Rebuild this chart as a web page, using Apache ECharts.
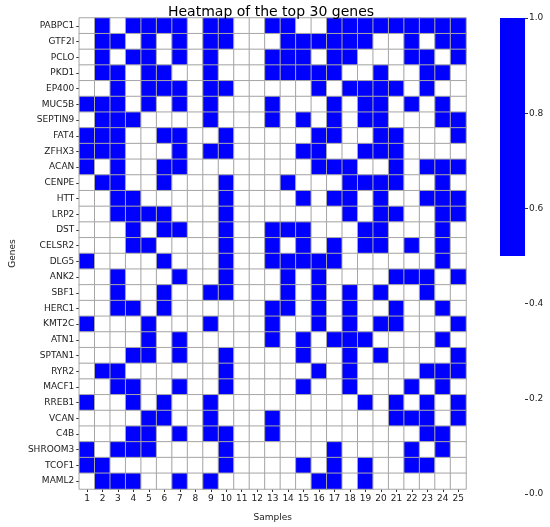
<!DOCTYPE html>
<html>
<head>
<meta charset="utf-8">
<script src="https://cdn.jsdelivr.net/npm/echarts@6/dist/echarts.min.js"></script>
<style>
html,body{margin:0;padding:0;background:#fff;}
#chart{width:550px;height:527px;}
</style>
</head>
<body>
<div id="chart"></div>
<script>
const samples = ['1','2','3','4','5','6','7','8','9','10','11','12','13','14','15','16','17','18','19','20','21','22','23','24','25'];
const genes = ['PABPC1','GTF2I','PCLO','PKD1','EP400','MUC5B','SEPTIN9','FAT4','ZFHX3','ACAN','CENPE','HTT','LRP2','DST','CELSR2','DLG5','ANK2','SBF1','HERC1','KMT2C','ATN1','SPTAN1','RYR2','MACF1','RREB1','VCAN','C4B','SHROOM3','TCOF1','MAML2'];

const PABPC1  = [0,1,0,1,1,1,1,0,1,1,0,0,1,1,0,0,1,1,1,1,1,1,1,1,1];
const GTF2I   = [0,1,1,0,1,0,1,0,1,1,0,0,0,1,1,1,1,1,1,0,0,1,0,1,1];
const PCLO    = [0,1,0,1,1,0,1,0,1,0,0,0,1,1,1,0,1,1,0,0,0,1,1,0,1];
const PKD1    = [0,1,1,0,1,1,0,0,1,0,0,0,1,1,1,1,1,0,0,1,0,0,1,1,0];
const EP400   = [0,0,1,0,1,1,1,0,1,1,0,0,0,0,0,1,0,1,1,1,1,0,1,0,0];
const MUC5B   = [1,1,1,0,1,0,1,0,1,0,0,0,1,0,0,0,1,0,1,1,0,1,0,1,0];
const SEPTIN9 = [0,1,1,1,0,0,0,0,1,0,0,0,1,0,1,0,1,0,1,1,0,0,0,1,1];
const FAT4    = [1,1,1,0,0,1,1,0,0,1,0,0,0,0,0,1,1,0,0,1,1,0,0,0,1];
const ZFHX3   = [1,1,1,0,0,0,1,0,1,1,0,0,0,0,1,1,0,0,1,1,1,0,0,0,0];
const ACAN    = [1,0,1,0,0,1,1,0,0,0,0,0,0,0,0,1,1,1,0,0,1,0,1,1,1];
const CENPE   = [0,1,1,0,0,1,0,0,0,1,0,0,0,1,0,0,0,1,1,1,1,0,0,1,0];
const HTT     = [0,0,1,1,0,0,0,0,0,1,0,0,0,0,1,0,1,1,0,1,0,0,1,1,1];
const LRP2    = [0,0,1,1,1,1,0,0,0,1,0,0,0,0,0,0,0,1,0,1,1,0,0,1,1];
const DST     = [0,0,0,1,0,1,1,0,0,1,0,0,1,1,1,0,0,0,1,1,0,0,0,1,0];
const CELSR2  = [0,0,0,1,1,0,0,0,0,1,0,0,1,0,1,0,1,0,1,1,0,1,0,1,0];
const DLG5    = [1,0,0,0,0,1,0,0,0,1,0,0,1,1,1,1,1,0,0,0,0,0,0,1,0];
const ANK2    = [0,0,1,0,0,0,1,0,0,1,0,0,0,1,0,1,0,0,0,0,1,1,1,0,1];
const SBF1    = [0,0,1,0,0,1,0,0,1,1,0,0,0,1,0,1,0,1,0,1,0,0,1,0,0];
const HERC1   = [0,0,1,1,0,1,0,0,0,0,0,0,1,1,0,1,0,1,0,0,1,0,0,1,0];
const KMT2C   = [1,0,0,0,1,0,0,0,1,0,0,0,1,0,0,1,0,1,0,1,1,0,0,0,1];
const ATN1    = [0,0,0,0,1,0,1,0,0,0,0,0,1,0,1,0,1,1,1,0,0,0,0,1,0];
const SPTAN1  = [0,0,0,1,1,0,1,0,0,1,0,0,0,0,1,0,0,1,0,1,0,0,0,0,1];
const RYR2    = [0,1,1,0,0,0,0,0,0,1,0,0,0,0,0,1,0,1,0,0,0,0,1,1,1];
const MACF1   = [0,0,1,1,0,0,1,0,0,1,0,0,0,0,1,0,0,1,0,0,0,1,0,1,0];
const RREB1   = [1,0,0,1,0,1,0,0,1,0,0,0,0,0,0,0,0,0,1,0,1,0,1,0,1];
const VCAN    = [0,0,0,0,1,1,0,0,1,0,0,0,1,0,0,0,0,0,0,0,1,1,1,0,1];
const C4B     = [0,0,0,1,1,0,1,0,1,1,0,0,1,0,0,0,0,0,0,0,0,0,1,1,0];
const SHROOM3 = [1,0,1,1,1,0,0,0,0,1,0,0,0,0,0,0,1,0,0,0,0,1,0,1,0];
const TCOF1   = [1,1,0,0,0,0,0,0,0,1,0,0,0,0,1,0,1,0,1,0,0,1,1,0,0];
const MAML2   = [0,1,1,1,0,0,1,0,1,0,0,0,0,0,0,1,1,0,1,0,0,0,0,0,0];

const matrix = [PABPC1,GTF2I,PCLO,PKD1,EP400,MUC5B,SEPTIN9,FAT4,ZFHX3,ACAN,CENPE,HTT,LRP2,DST,CELSR2,DLG5,ANK2,SBF1,HERC1,KMT2C,ATN1,SPTAN1,RYR2,MACF1,RREB1,VCAN,C4B,SHROOM3,TCOF1,MAML2];

// colorbar segments (value spans), bottom to top
const colorbarSpans = [0.5, 0.5];

const data = [];
matrix.forEach((row, yi) => row.forEach((v, xi) => data.push([xi, yi, v])));

const BLUE = '#0000ff';
const FONT = 'DejaVu Sans';
const TXT = '#1a1a1a';
const chart = echarts.init(document.getElementById('chart'));
chart.setOption({
  animation: false,
  backgroundColor: '#ffffff',
  title: {
    text: 'Heatmap of the top 30 genes',
    left: 266, top: 0, textAlign: 'center',
    textStyle: {fontFamily: FONT, fontSize: 14, fontWeight: 'normal', color: '#000'}
  },
  grid: [
    {left: 66, top: 18, width: 400, height: 480},
    {left: 500, top: 18, width: 25, height: 476}
  ],
  xAxis: [
    {
      type: 'category', data: samples, gridIndex: 0, position: 'bottom',
      name: 'Samples', nameLocation: 'middle', nameGap: 24,
      nameTextStyle: {fontFamily: FONT, fontSize: 9, color: TXT},
      axisLine: {show: false},
      axisTick: {show: true, alignWithLabel: true, length: 3, lineStyle: {color: '#333'}},
      axisLabel: {fontFamily: FONT, fontSize: 9, color: TXT, margin: 5, interval: 0},
      splitLine: {show: false}
    },
    {
      type: 'category', data: ['cb'], gridIndex: 1, show: false
    }
  ],
  yAxis: [
    {
      type: 'category', data: genes, gridIndex: 0, inverse: true,
      name: 'Genes', nameLocation: 'middle', nameGap: 60, nameRotate: 90,
      nameTextStyle: {fontFamily: FONT, fontSize: 9, color: TXT},
      axisLine: {show: false},
      axisTick: {show: true, alignWithLabel: true, length: 3, lineStyle: {color: '#333'}},
      axisLabel: {fontFamily: FONT, fontSize: 9, color: TXT, margin: 5, interval: 0},
      splitLine: {show: false}
    },
    {
      type: 'value', gridIndex: 1, min: 0, max: 1, interval: 0.2, position: 'right',
      axisLine: {show: false},
      axisTick: {show: true, length: 3, lineStyle: {color: '#333'}},
      axisLabel: {fontFamily: FONT, fontSize: 9, color: TXT, margin: 4,
        formatter: v => v.toFixed(1)},
      splitLine: {show: false}
    }
  ],
  visualMap: {
    show: false, type: 'piecewise', seriesIndex: 0, dimension: 2,
    pieces: [{value: 0, color: '#ffffff'}, {value: 1, color: BLUE}]
  },
  series: [
    {
      type: 'heatmap', xAxisIndex: 0, yAxisIndex: 0, data: data,
      itemStyle: {borderColor: '#a6a6a6', borderWidth: 1},
      emphasis: {disabled: true}
    },
    {
      type: 'bar', xAxisIndex: 1, yAxisIndex: 1, stack: 'cb', barWidth: '100%',
      data: [colorbarSpans[0]], itemStyle: {color: '#ffffff'}, silent: true
    },
    {
      type: 'bar', xAxisIndex: 1, yAxisIndex: 1, stack: 'cb', barWidth: '100%',
      data: [colorbarSpans[1]], itemStyle: {color: BLUE}, silent: true
    }
  ]
});
</script>
</body>
</html>
